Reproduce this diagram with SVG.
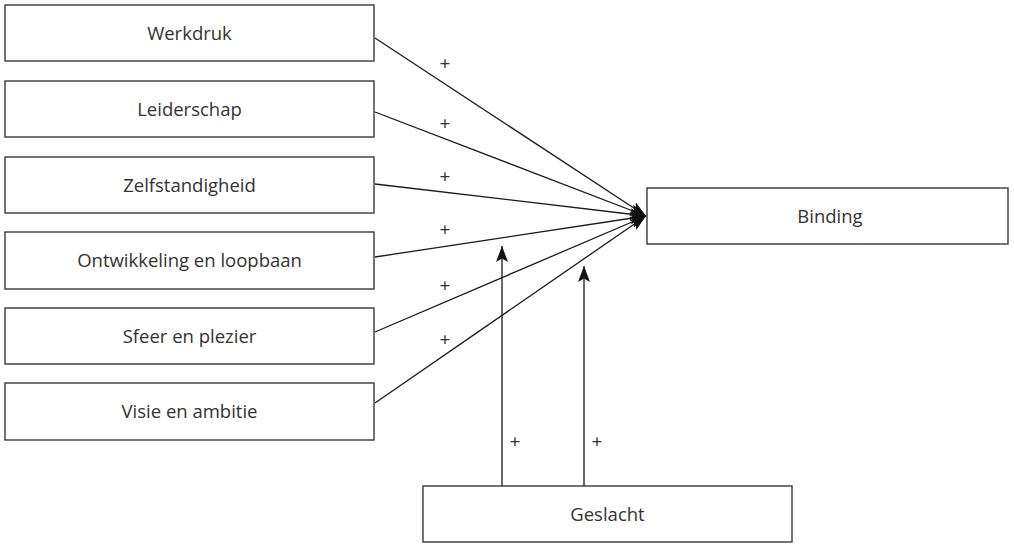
<svg xmlns="http://www.w3.org/2000/svg" width="1014" height="544" viewBox="0 0 1014 544">
<defs>
<marker id="ah" viewBox="0 0 16 12" refX="16" refY="6" markerWidth="16" markerHeight="12" markerUnits="userSpaceOnUse" orient="auto">
<path d="M0,0 L16,6 L0,12 L3.5,6 Z" fill="#111"/>
</marker>
</defs>
<style>
.box{fill:#fff;stroke:#3a3a3a;stroke-width:1.4}
.lbl{font-family:"Open Sans","Noto Sans",sans-serif;font-size:18.5px;fill:#333;text-anchor:middle}
.plus{font-family:"Open Sans","Noto Sans",sans-serif;font-size:19px;fill:#333;text-anchor:middle}
.con{stroke:#1a1a1a;stroke-width:1.3;fill:none;marker-end:url(#ah)}
</style>
<rect width="1014" height="544" fill="#fff"/>
<g id="n-werkdruk"><rect class="box" x="5" y="5" width="369" height="56"/><text class="lbl" x="189.5" y="39.5">Werkdruk</text></g>
<g id="n-leiderschap"><rect class="box" x="5" y="81" width="369" height="56"/><text class="lbl" x="189.5" y="115.5">Leiderschap</text></g>
<g id="n-zelfstandigheid"><rect class="box" x="5" y="157" width="369" height="56"/><text class="lbl" x="189.5" y="191.5">Zelfstandigheid</text></g>
<g id="n-ontwikkeling"><rect class="box" x="5" y="232" width="369" height="57"/><text class="lbl" x="189.5" y="266.5">Ontwikkeling en loopbaan</text></g>
<g id="n-sfeer"><rect class="box" x="5" y="308" width="369" height="56"/><text class="lbl" x="189.5" y="342.5">Sfeer en plezier</text></g>
<g id="n-visie"><rect class="box" x="5" y="383" width="369" height="57"/><text class="lbl" x="189.5" y="417.5">Visie en ambitie</text></g>
<g id="n-binding"><rect class="box" x="647" y="188" width="361" height="56"/><text class="lbl" x="830" y="222.5">Binding</text></g>
<g id="n-geslacht"><rect class="box" x="423" y="486" width="369" height="56"/><text class="lbl" x="607.5" y="520.5">Geslacht</text></g>
<g id="connectors">
<line class="con" x1="375" y1="38" x2="646" y2="216"/>
<line class="con" x1="375" y1="112" x2="646" y2="216"/>
<line class="con" x1="375" y1="184" x2="646" y2="216"/>
<line class="con" x1="375" y1="257" x2="646" y2="216"/>
<line class="con" x1="375" y1="332" x2="646" y2="216"/>
<line class="con" x1="375" y1="403" x2="646" y2="216"/>
<line class="con" x1="502" y1="486" x2="502" y2="246"/>
<line class="con" x1="584" y1="486" x2="584" y2="266"/>
<text class="plus" x="445" y="70">+</text>
<text class="plus" x="445" y="130">+</text>
<text class="plus" x="445" y="183">+</text>
<text class="plus" x="445" y="236">+</text>
<text class="plus" x="445" y="292">+</text>
<text class="plus" x="445" y="346">+</text>
<text class="plus" x="515" y="448">+</text>
<text class="plus" x="597" y="448">+</text>
</g>
</svg>
